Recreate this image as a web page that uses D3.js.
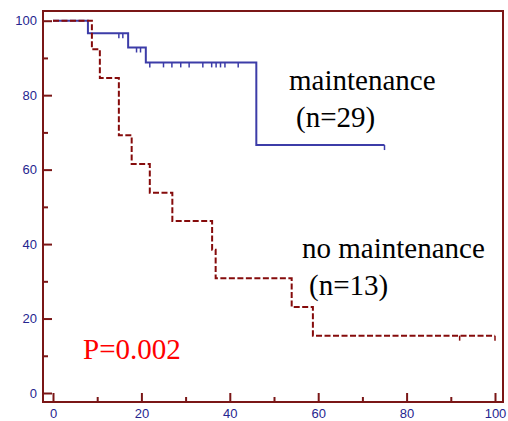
<!DOCTYPE html>
<html>
<head>
<meta charset="utf-8">
<script src="https://cdn.jsdelivr.net/npm/d3@7"></script>
<style>
  body { margin: 0; background: #fff; }
  .tick text { font-family: Arial, 'Liberation Sans', sans-serif; font-size: 13px; fill: #25258f; }
</style>
</head>
<body>
<script>
// Kaplan-Meier step data
const maintTimes = [0, 7.9, 17, 21, 46]
const maintSurv = [100, 96.6, 92.8, 88.8, 66.6]
const maintEnd = 75
const maintCensor = [14.9, 15.8, 18.9, 19.8, 21.9, 25, 26.9, 28.9, 30.8, 33.9, 35.9, 36.9, 37.9, 38.9, 41.9, 75]

const noMaintTimes = [0, 8.8, 10.6, 14.9, 17.8, 21.9, 27, 36, 36.8, 54, 58.8]
const noMaintSurv = [100, 92.3, 84.6, 69.2, 61.5, 53.8, 46.2, 38.5, 30.8, 23.1, 15.4]
const noMaintEnd = 100
const noMaintCensor = [92, 100]

const xTicks = [0, 20, 40, 60, 80, 100]
const yTicks = [0, 20, 40, 60, 80, 100]
const minorTicks = [10, 30, 50, 70, 90]

const W = 508, H = 421
const frame = { left: 43, top: 11, right: 503, bottom: 402 }
const frameColor = '#7a1616'
const blue = '#3c3ca8'
const red = '#850b0b'

const svg = d3.select('body').append('svg')
  .attr('width', W)
  .attr('height', H)

const x = d3.scaleLinear().domain([0, 100]).range([53, 495])
const y = d3.scaleLinear().domain([0, 100]).range([393, 20.7])

// axes (ticks point inward)
const yAxis = svg.append('g')
  .attr('transform', `translate(${frame.left},0)`)
  .call(d3.axisLeft(y).tickValues(yTicks).tickSize(-9).tickPadding(6))
yAxis.select('.domain').remove()
yAxis.selectAll('line').attr('stroke', frameColor).attr('stroke-width', 2)

const yMinor = svg.append('g')
  .attr('transform', `translate(${frame.left},0)`)
  .call(d3.axisLeft(y).tickValues(minorTicks).tickSize(-5).tickFormat(''))
yMinor.select('.domain').remove()
yMinor.selectAll('line').attr('stroke', frameColor).attr('stroke-width', 2)

const xAxis = svg.append('g')
  .attr('transform', `translate(0,${frame.bottom})`)
  .call(d3.axisBottom(x).tickValues(xTicks).tickSize(-9).tickPadding(7))
xAxis.select('.domain').remove()
xAxis.selectAll('line').attr('stroke', frameColor).attr('stroke-width', 2)

const xMinor = svg.append('g')
  .attr('transform', `translate(0,${frame.bottom})`)
  .call(d3.axisBottom(x).tickValues(minorTicks).tickSize(-5).tickFormat(''))
xMinor.select('.domain').remove()
xMinor.selectAll('line').attr('stroke', frameColor).attr('stroke-width', 2)

svg.append('rect')
  .attr('x', frame.left)
  .attr('y', frame.top)
  .attr('width', frame.right - frame.left)
  .attr('height', frame.bottom - frame.top)
  .attr('fill', 'none')
  .attr('stroke', frameColor)
  .attr('stroke-width', 2)

// step curves
const stepLine = d3.line()
  .x(d => x(d[0]))
  .y(d => y(d[1]))
  .curve(d3.curveStepAfter)

function stepPoints(times, surv, end) {
  const pts = times.map((t, i) => [t, surv[i]])
  pts.push([end, surv[surv.length - 1]])
  return pts
}

function survAt(times, surv, t) {
  let s = surv[0]
  times.forEach((tt, i) => { if (tt <= t) s = surv[i] })
  return s
}

function drawCurve(times, surv, end, censor, color, dash) {
  svg.append('path')
    .datum(stepPoints(times, surv, end))
    .attr('d', stepLine)
    .attr('fill', 'none')
    .attr('stroke', color)
    .attr('stroke-width', 2)
    .attr('stroke-dasharray', dash)

  svg.selectAll(null)
    .data(censor)
    .enter().append('line')
    .attr('x1', d => x(d))
    .attr('x2', d => x(d))
    .attr('y1', d => y(survAt(times, surv, d)))
    .attr('y2', d => y(survAt(times, surv, d)) + 5)
    .attr('stroke', color)
    .attr('stroke-width', 1.5)
}

drawCurve(maintTimes, maintSurv, maintEnd, maintCensor, blue, null)
drawCurve(noMaintTimes, noMaintSurv, noMaintEnd, noMaintCensor, red, '6,2.5')

// labels
const labels = [
  { text: 'maintenance', x: 289, y: 90, color: '#000' },
  { text: '(n=29)', x: 296, y: 127, color: '#000' },
  { text: 'no maintenance', x: 302, y: 258, color: '#000' },
  { text: '(n=13)', x: 309, y: 295, color: '#000' },
  { text: 'P=0.002', x: 83, y: 359, color: '#ff0000' }
]
svg.selectAll('text.lbl')
  .data(labels)
  .enter().append('text')
  .attr('class', 'lbl')
  .attr('x', d => d.x)
  .attr('y', d => d.y)
  .attr('fill', d => d.color)
  .style('font-family', '"Liberation Serif", "Times New Roman", serif')
  .style('font-size', '29px')
  .text(d => d.text)
</script>
</body>
</html>
